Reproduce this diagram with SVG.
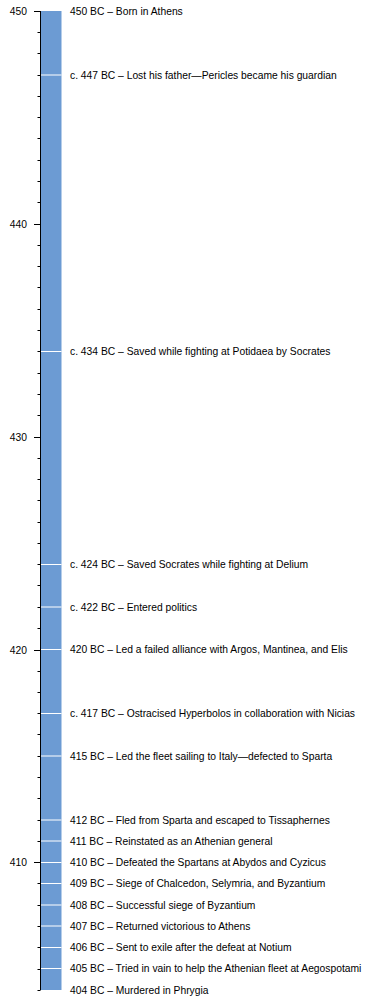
<svg xmlns="http://www.w3.org/2000/svg" width="390" height="1000" viewBox="0 0 390 1000">
<style>
text{font-family:"Liberation Sans",Arial,sans-serif;font-size:10.3px;fill:#000}
.yr{text-anchor:end}
.tick{stroke:#000;stroke-width:1;fill:none}
.ev{stroke:#fff;stroke-width:1}
</style>
<rect x="0" y="0" width="390" height="1000" fill="#fff"/>
<g id="bar">
<rect x="41" y="11" width="20.5" height="979" fill="#6c9bd3"/>
</g>
<g id="axis">
<path class="tick" d="M40.5 11V990.5"/>
<path class="tick" d="M34 11.5H40M34 224.5H40M34 437.5H40M34 650.5H40M34 862.5H40"/>
<path class="tick" d="M37.5 32.5H40M37.5 53.5H40M37.5 75.5H40M37.5 96.5H40M37.5 117.5H40M37.5 138.5H40M37.5 160.5H40M37.5 181.5H40M37.5 202.5H40M37.5 245.5H40M37.5 266.5H40M37.5 287.5H40M37.5 309.5H40M37.5 330.5H40M37.5 351.5H40M37.5 373.5H40M37.5 394.5H40M37.5 415.5H40M37.5 458.5H40M37.5 479.5H40M37.5 500.5H40M37.5 522.5H40M37.5 543.5H40M37.5 564.5H40M37.5 585.5H40M37.5 607.5H40M37.5 628.5H40M37.5 671.5H40M37.5 692.5H40M37.5 713.5H40M37.5 734.5H40M37.5 756.5H40M37.5 777.5H40M37.5 798.5H40M37.5 820.5H40M37.5 841.5H40M37.5 883.5H40M37.5 905.5H40M37.5 926.5H40M37.5 947.5H40M37.5 969.5H40M37.5 990.5H40"/>
<text class="yr" x="27" y="15">450</text>
<text class="yr" x="27" y="228">440</text>
<text class="yr" x="27" y="441">430</text>
<text class="yr" x="27" y="654">420</text>
<text class="yr" x="27" y="866">410</text>
</g>
<g id="connectors">
<path class="ev" d="M41 75H61.5M41 351.5H61.5M41 564.5H61.5M41 607H61.5M41 649.5H61.5M41 713.5H61.5M41 756H61.5M41 820H61.5M41 841H61.5M41 862.5H61.5M41 883.5H61.5M41 905H61.5M41 926H61.5M41 947.5H61.5M41 968.5H61.5"/>
</g>
<g id="e450"><text x="70" y="14.5">450 BC – Born in Athens</text></g>
<g id="e447"><text x="70" y="78.5">c. 447 BC – Lost his father—Pericles became his guardian</text></g>
<g id="e434"><text x="70" y="355">c. 434 BC – Saved while fighting at Potidaea by Socrates</text></g>
<g id="e424"><text x="70" y="568">c. 424 BC – Saved Socrates while fighting at Delium</text></g>
<g id="e422"><text x="70" y="610.5">c. 422 BC – Entered politics</text></g>
<g id="e420"><text x="70" y="653">420 BC – Led a failed alliance with Argos, Mantinea, and Elis</text></g>
<g id="e417"><text x="70" y="717">c. 417 BC – Ostracised Hyperbolos in collaboration with Nicias</text></g>
<g id="e415"><text x="70" y="759.5">415 BC – Led the fleet sailing to Italy—defected to Sparta</text></g>
<g id="e412"><text x="70" y="823.5">412 BC – Fled from Sparta and escaped to Tissaphernes</text></g>
<g id="e411"><text x="70" y="844.5">411 BC – Reinstated as an Athenian general</text></g>
<g id="e410"><text x="70" y="866">410 BC – Defeated the Spartans at Abydos and Cyzicus</text></g>
<g id="e409"><text x="70" y="887">409 BC – Siege of Chalcedon, Selymria, and Byzantium</text></g>
<g id="e408"><text x="70" y="908.5">408 BC – Successful siege of Byzantium</text></g>
<g id="e407"><text x="70" y="929.5">407 BC – Returned victorious to Athens</text></g>
<g id="e406"><text x="70" y="951">406 BC – Sent to exile after the defeat at Notium</text></g>
<g id="e405"><text x="70" y="972">405 BC – Tried in vain to help the Athenian fleet at Aegospotami</text></g>
<g id="e404"><text x="70" y="993.5">404 BC – Murdered in Phrygia</text></g>
</svg>
